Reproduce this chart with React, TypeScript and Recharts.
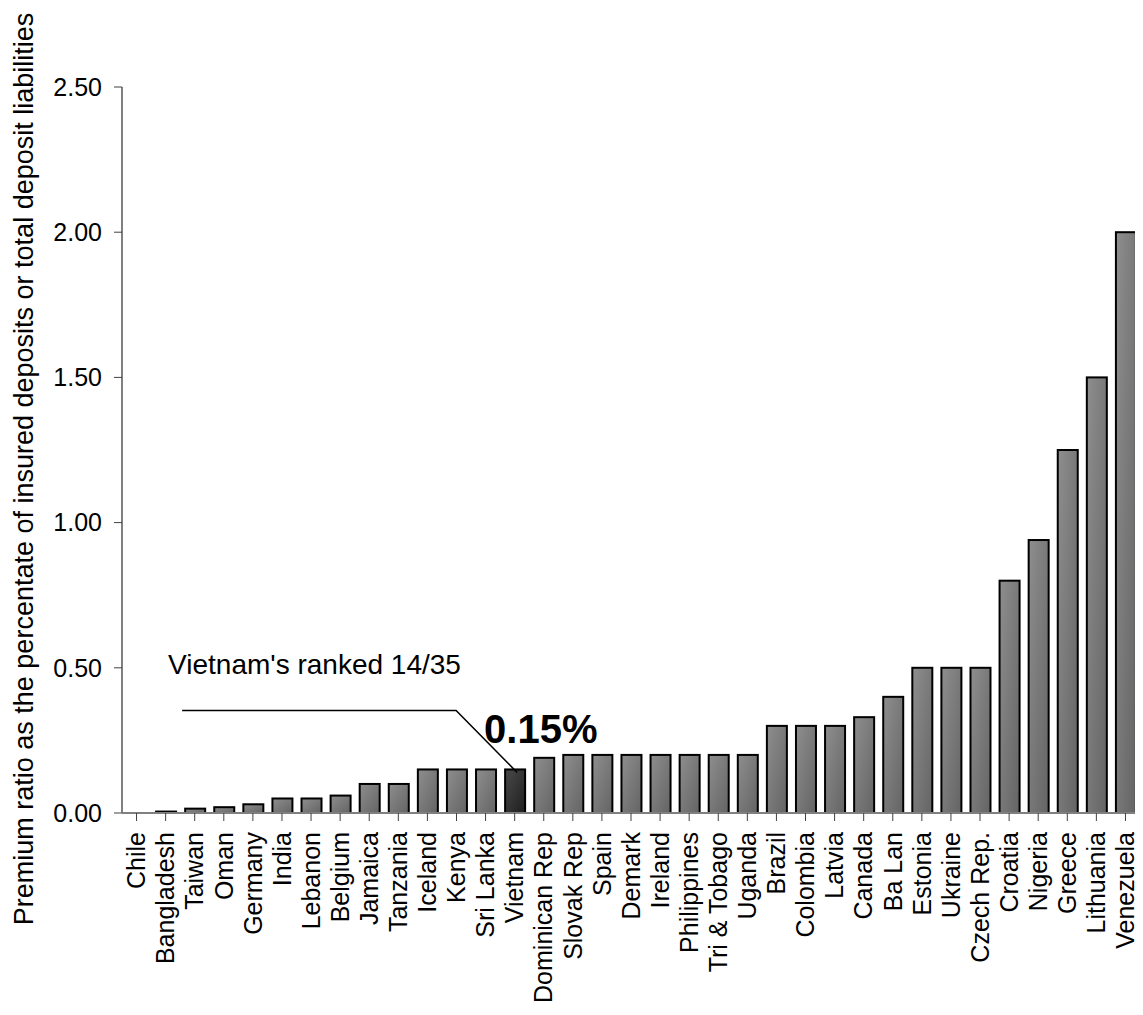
import React from 'react';
import { BarChart, Bar, XAxis, YAxis } from 'recharts';

const countries = [
  'Chile', 'Bangladesh', 'Taiwan', 'Oman', 'Germany', 'India', 'Lebanon', 'Belgium',
  'Jamaica', 'Tanzania', 'Iceland', 'Kenya', 'Sri Lanka', 'Vietnam', 'Dominican Rep',
  'Slovak Rep', 'Spain', 'Demark', 'Ireland', 'Philippines', 'Tri & Tobago', 'Uganda',
  'Brazil', 'Colombia', 'Latvia', 'Canada', 'Ba Lan', 'Estonia', 'Ukraine', 'Czech Rep.',
  'Croatia', 'Nigeria', 'Greece', 'Lithuania', 'Venezuela',
];

const premiumRatio = [
  0, 0.005, 0.015, 0.02, 0.03, 0.05, 0.05, 0.06, 0.1, 0.1, 0.15, 0.15, 0.15, 0.15, 0.19,
  0.2, 0.2, 0.2, 0.2, 0.2, 0.2, 0.2, 0.3, 0.3, 0.3, 0.33, 0.4, 0.5, 0.5, 0.5, 0.8, 0.94,
  1.25, 1.5, 2.0,
];

const yTicks = [0, 0.5, 1, 1.5, 2, 2.5];

const highlight = 'Vietnam';
const rankText = "Vietnam's ranked 14/35";
const highlightText = '0.15%';
const yLabel = 'Premium ratio as the percentate of insured deposits or total deposit liabilities';

const data = countries.map((name, i) => ({ name, value: premiumRatio[i] }));

const FONT = 'Arial, "Liberation Sans", sans-serif';

const BarShape = (props: any) => {
  const { x, y, width, height, payload } = props;
  const isHi = payload.name === highlight;
  const cx = x + width / 2;
  return (
    <g>
      <rect
        x={x}
        y={y}
        width={width}
        height={Math.max(height, 0)}
        fill={isHi ? 'url(#gradDark)' : 'url(#gradGrey)'}
        stroke="#000"
        strokeWidth={2}
      />
      {isHi && (
        <g>
          <polyline
            points={`${cx - 333},${y - 59} ${cx - 59},${y - 59} ${cx + 2},${y + 3}`}
            fill="none"
            stroke="#000"
            strokeWidth={1.5}
          />
          <text x={cx - 347} y={y - 95} fontSize={28} fontFamily={FONT} fill="#000">
            {rankText}
          </text>
          <text x={cx - 31} y={y - 26} fontSize={40} fontWeight="bold" fontFamily={FONT} fill="#000">
            {highlightText}
          </text>
        </g>
      )}
    </g>
  );
};

const YLabel = (props: any) => {
  const vb = props.viewBox || {};
  const cy = vb.y + vb.height / 2 + 19;
  const lx = 25;
  return (
    <text
      x={lx}
      y={cy}
      transform={`rotate(-90, ${lx}, ${cy})`}
      textAnchor="middle"
      fontSize={27}
      fontFamily={FONT}
      fill="#000"
    >
      {yLabel}
    </text>
  );
};

export default function App() {
  return (
    <div style={{ width: 1135, height: 1007, fontFamily: FONT }}>
      <BarChart
        width={1135}
        height={1007}
        data={data}
        margin={{ top: 79, right: 3, left: 0, bottom: 2 }}
        barSize={20}
      >
        <defs>
          <linearGradient id="gradGrey" x1="0" y1="0" x2="1" y2="1">
            <stop offset="0%" stopColor="#8e8e8e" />
            <stop offset="100%" stopColor="#646464" />
          </linearGradient>
          <linearGradient id="gradDark" x1="0" y1="0" x2="1" y2="1">
            <stop offset="0%" stopColor="#4a4a4a" />
            <stop offset="100%" stopColor="#1e1e1e" />
          </linearGradient>
        </defs>
        <XAxis
          dataKey="name"
          interval={0}
          height={200}
          angle={-90}
          textAnchor="end"
          tickSize={8}
          tickMargin={11}
          axisLine={{ stroke: '#808080', strokeWidth: 2 }}
          tickLine={{ stroke: '#404040' }}
          tick={{ fontSize: 25, fill: '#000', fontFamily: FONT, dx: -9 } as any}
        />
        <YAxis
          width={114}
          domain={[0, 2.5]}
          ticks={yTicks}
          interval={0}
          tickFormatter={(v: number) => v.toFixed(2)}
          tickSize={8}
          tickMargin={12}
          axisLine={{ stroke: '#808080', strokeWidth: 2 }}
          tickLine={{ stroke: '#404040' }}
          tick={{ fontSize: 25, fill: '#000', fontFamily: FONT }}
          label={<YLabel />}
        />
        <Bar dataKey="value" isAnimationActive={false} shape={<BarShape />} />
      </BarChart>
    </div>
  );
}
